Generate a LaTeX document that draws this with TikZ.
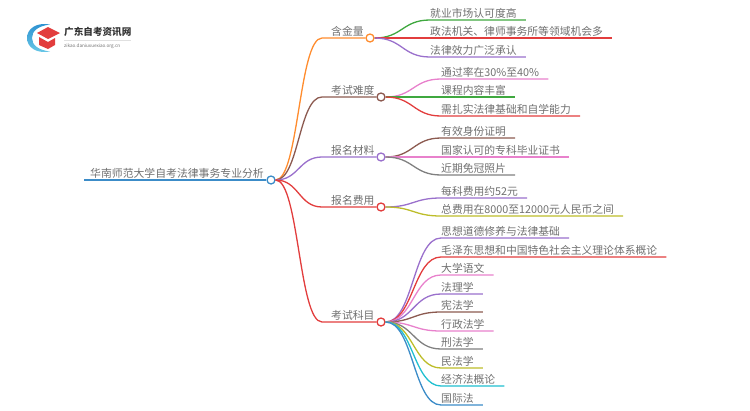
\documentclass[tikz,border=0pt]{standalone}
\usepackage{fontspec}
\setmainfont{Noto Sans CJK SC}
\usetikzlibrary{calc}
\definecolor{lineOrange}{HTML}{FF8C2E}
\definecolor{lineBrown}{HTML}{8C5A50}
\definecolor{linePurple}{HTML}{9A70CC}
\definecolor{lineRed}{HTML}{E23D3D}
\definecolor{lineGreen}{HTML}{3FA83F}
\definecolor{linePink}{HTML}{E881CC}
\definecolor{lineGray}{HTML}{808080}
\definecolor{lineOlive}{HTML}{BDBD2A}
\definecolor{lineCyan}{HTML}{1FBFD0}
\definecolor{lineBlue}{HTML}{3C8CC8}
\definecolor{logoBlue}{HTML}{2A8FD0}
\definecolor{logoCyan}{HTML}{6CCBE8}
\definecolor{textGray}{HTML}{707070}
\tikzset{
	wire/.style={line width=1.3pt,line join=round},
	link/.style={to path={let \p1=(\tikztostart),\p2=(\tikztotarget) in .. controls ({0.5*(\x1+\x2)},\y1) and ({0.5*(\x1+\x2)},\y2) .. (\p2)}},
	hub/.style={circle,draw=#1,fill=white,line width=1.3pt,inner sep=0pt,minimum size=8pt},
	txt/.style={anchor=south west,text=textGray,font=\fontsize{10.8pt}{12pt}\selectfont,text height=9pt,text depth=2pt,inner ysep=0pt},
	branch/.style={txt,inner xsep=9pt},
	leaf/.style={txt,inner xsep=0pt},
}
\begin{document}
\begin{tikzpicture}[x=1pt,y=-1pt]
	\useasboundingbox (0,0) rectangle (750,410);

	% Draw logo
	\shade[top color=logoBlue,bottom color=logoCyan] (50,24.5) .. controls (36,22) and (27,29) .. (27,38) .. controls (27,47) and (36,54) .. (50,51.5) .. controls (38,50) and (32,45) .. (32,38) .. controls (32,31) and (38,26) .. (50,24.5);
	\fill[lineRed] (37,33) -- (48,27) -- (60,33) -- (48,39) -- cycle;
	\fill[lineRed] (39,37) -- (48,42) -- (55,38) -- (55,45) -- (48,49) -- (39,45) -- cycle;
	\node[anchor=west,inner sep=0pt,text=black!80,font=\fontsize{9.6pt}{10pt}\selectfont\bfseries] (logoTitle) at (64,31.5) {广东自考资讯网};
	\node[anchor=west,inner sep=0pt,text=textGray,font=\fontsize{4.6pt}{5pt}\selectfont] (logoSite) at (64,46.5) {zikao.daniuxuexiao.org.cn};
	\draw[black!12,line width=0.5pt] (logoTitle.south west |- 0,40) -- (131,40);

	% Draw root
	\node[txt,inner xsep=0pt,font=\fontsize{10.85pt}{12pt}\selectfont] (root) at (90,180) {华南师范大学自考法律事务专业分析};
	\node[hub=lineBlue] (rootHub) at (271,180) {};
	\coordinate (rootStart) at (84,180);
	\draw[wire,lineBlue] (rootStart) -- (rootHub.west);

	% Draw main branches
	\node[branch] (brGold) at (322,38) {含金量};
	\node[branch] (brHard) at (322,97) {考试难度};
	\node[branch] (brDocs) at (322,157) {报名材料};
	\node[branch] (brFees) at (322,207) {报名费用};
	\node[branch] (brSubj) at (322,322) {考试科目};
	\node[hub=lineOrange] (hubGold) at (370,38) {};
	\node[hub=lineBrown] (hubHard) at (381,97) {};
	\node[hub=linePurple] (hubDocs) at (381,157) {};
	\node[hub=lineRed] (hubFees) at (381,207) {};
	\node[hub=lineRed] (hubSubj) at (381,322) {};
	\draw[wire,lineOrange] (rootHub.east) to[link] (brGold.south west) -- (hubGold.west);
	\draw[wire,lineBrown] (rootHub.east) to[link] (brHard.south west) -- (hubHard.west);
	\draw[wire,linePurple] (rootHub.east) to[link] (brDocs.south west) -- (hubDocs.west);
	\draw[wire,lineRed] (rootHub.east) to[link] (brFees.south west) -- (hubFees.west);
	\draw[wire,lineRed] (rootHub.east) to[link] (brSubj.south west) -- (hubSubj.west);

	% Leaves of the first branch
	\node[leaf] (goldA) at (430,20) {就业市场认可度高};
	\node[leaf] (goldB) at (430,38) {政法机关、律师事务所等领域机会多};
	\node[leaf] (goldC) at (430,57) {法律效力广泛承认};
	\draw[wire,lineGreen] (hubGold.east) to[link] (goldA.south west) -- ([xshift=9pt]goldA.south east);
	\draw[wire,lineRed] (hubGold.east) to[link] (goldB.south west) -- ([xshift=9pt]goldB.south east);
	\draw[wire,linePurple] (hubGold.east) to[link] (goldC.south west) -- ([xshift=9pt]goldC.south east);

	% Leaves of the second branch
	\node[leaf] (hardA) at (441,79) {通过率在30\%至40\%};
	\node[leaf] (hardB) at (441,97) {课程内容丰富};
	\node[leaf] (hardC) at (441,116) {需扎实法律基础和自学能力};
	\draw[wire,linePink] (hubHard.east) to[link] (hardA.south west) -- ([xshift=9pt]hardA.south east);
	\draw[wire,lineGreen] (hubHard.east) to[link] (hardB.south west) -- ([xshift=9pt]hardB.south east);
	\draw[wire,lineRed] (hubHard.east) to[link] (hardC.south west) -- ([xshift=9pt]hardC.south east);

	% Leaves of the third branch
	\node[leaf] (docsA) at (441,138) {有效身份证明};
	\node[leaf] (docsB) at (441,157) {国家认可的专科毕业证书};
	\node[leaf] (docsC) at (441,175) {近期免冠照片};
	\draw[wire,lineBrown] (hubDocs.east) to[link] (docsA.south west) -- ([xshift=9pt]docsA.south east);
	\draw[wire,linePink] (hubDocs.east) to[link] (docsB.south west) -- ([xshift=9pt]docsB.south east);
	\draw[wire,lineGray] (hubDocs.east) to[link] (docsC.south west) -- ([xshift=9pt]docsC.south east);

	% Leaves of the fourth branch
	\node[leaf] (feesA) at (441,198) {每科费用约52元};
	\node[leaf] (feesB) at (441,216) {总费用在8000至12000元人民币之间};
	\draw[wire,linePurple] (hubFees.east) to[link] (feesA.south west) -- ([xshift=9pt]feesA.south east);
	\draw[wire,lineOlive] (hubFees.east) to[link] (feesB.south west) -- ([xshift=9pt]feesB.south east);

	% Leaves of the fifth branch
	\node[leaf] (subjA) at (441,238) {思想道德修养与法律基础};
	\node[leaf] (subjB) at (441,257) {毛泽东思想和中国特色社会主义理论体系概论};
	\node[leaf] (subjC) at (441,275) {大学语文};
	\node[leaf] (subjD) at (441,294) {法理学};
	\node[leaf] (subjE) at (441,312) {宪法学};
	\node[leaf] (subjF) at (441,331) {行政法学};
	\node[leaf] (subjG) at (441,349) {刑法学};
	\node[leaf] (subjH) at (441,368) {民法学};
	\node[leaf] (subjI) at (441,386) {经济法概论};
	\node[leaf] (subjJ) at (441,405) {国际法};
	\draw[wire,linePurple] (hubSubj.east) to[link] (subjA.south west) -- ([xshift=9pt]subjA.south east);
	\draw[wire,lineRed] (hubSubj.east) to[link] (subjB.south west) -- ([xshift=9pt]subjB.south east);
	\draw[wire,linePink] (hubSubj.east) to[link] (subjC.south west) -- ([xshift=9pt]subjC.south east);
	\draw[wire,linePurple] (hubSubj.east) to[link] (subjD.south west) -- ([xshift=9pt]subjD.south east);
	\draw[wire,lineBrown] (hubSubj.east) to[link] (subjE.south west) -- ([xshift=9pt]subjE.south east);
	\draw[wire,linePink] (hubSubj.east) to[link] (subjF.south west) -- ([xshift=9pt]subjF.south east);
	\draw[wire,lineGray] (hubSubj.east) to[link] (subjG.south west) -- ([xshift=9pt]subjG.south east);
	\draw[wire,lineOlive] (hubSubj.east) to[link] (subjH.south west) -- ([xshift=9pt]subjH.south east);
	\draw[wire,lineCyan] (hubSubj.east) to[link] (subjI.south west) -- ([xshift=9pt]subjI.south east);
	\draw[wire,lineBlue] (hubSubj.east) to[link] (subjJ.south west) -- ([xshift=9pt]subjJ.south east);
\end{tikzpicture}
\end{document}
